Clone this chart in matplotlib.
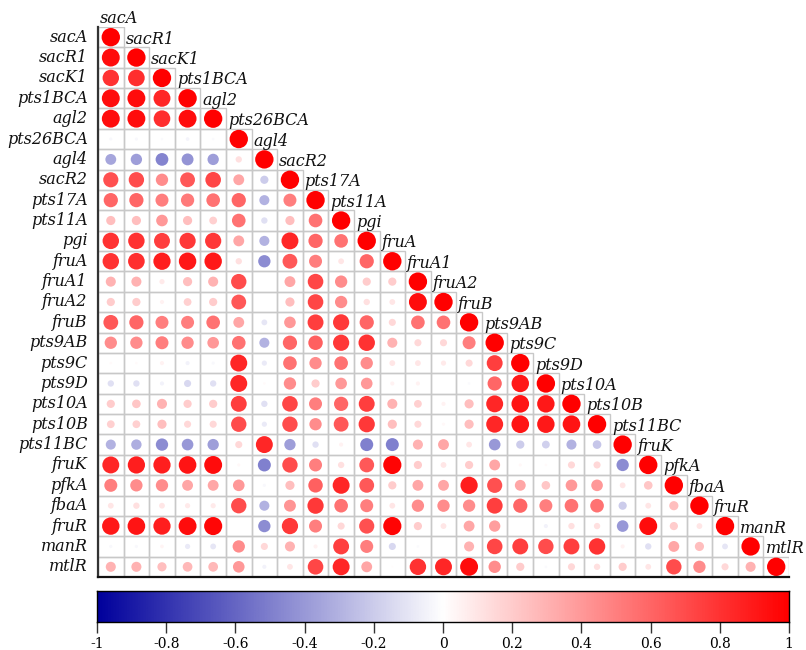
import numpy as np
import matplotlib.pyplot as plt
from matplotlib.colors import LinearSegmentedColormap
from matplotlib.patches import Rectangle

# названия переменных (строки и столбцы)
labels = ['sacA', 'sacR1', 'sacK1', 'pts1BCA', 'agl2', 'pts26BCA', 'agl4', 'sacR2',
          'pts17A', 'pts11A', 'pgi', 'fruA', 'fruA1', 'fruA2', 'fruB', 'pts9AB',
          'pts9C', 'pts9D', 'pts10A', 'pts10B', 'pts11BC', 'fruK', 'pfkA', 'fbaA',
          'fruR', 'manR', 'mtlR']

# нижний треугольник корреляций (без диагонали, она = 1)
corr_rows = [
    [],
    [0.95],
    [0.80, 0.82],
    [0.95, 0.95, 0.85],
    [0.95, 0.95, 0.82, 0.95],
    [-0.03, -0.03, -0.02, -0.04, -0.02],
    [-0.35, -0.38, -0.48, -0.42, -0.38, 0.12],
    [0.68, 0.70, 0.45, 0.65, 0.72, 0.35, -0.20],
    [0.60, 0.60, 0.50, 0.52, 0.55, 0.60, -0.30, 0.50],
    [0.25, 0.25, 0.40, 0.25, 0.18, 0.55, -0.12, 0.25, 0.55],
    [0.80, 0.80, 0.75, 0.78, 0.78, 0.35, -0.30, 0.85, 0.60, 0.55],
    [0.80, 0.82, 0.88, 0.90, 0.90, 0.12, -0.45, 0.65, 0.50, 0.10, 0.60],
    [0.30, 0.30, 0.08, 0.25, 0.30, 0.70, 0.00, 0.35, 0.72, 0.45, 0.20, 0.20],
    [0.20, 0.20, 0.05, 0.18, 0.20, 0.65, 0.00, 0.25, 0.72, 0.45, 0.12, 0.10, 0.95],
    [0.65, 0.60, 0.50, 0.50, 0.55, 0.35, -0.10, 0.40, 0.75, 0.78, 0.60, 0.15, 0.55, 0.55],
    [0.45, 0.45, 0.50, 0.45, 0.40, 0.55, -0.30, 0.60, 0.62, 0.78, 0.80, 0.30, 0.15, 0.15, 0.50],
    [0.02, 0.02, 0.05, -0.05, -0.03, 0.85, -0.08, 0.55, 0.45, 0.55, 0.45, 0.10, 0.10, 0.08,
     0.15, 0.75],
    [-0.12, -0.12, -0.05, -0.15, -0.12, 0.85, 0.02, 0.45, 0.20, 0.40, 0.40, 0.05, 0.05, 0.00,
     -0.02, 0.60, 0.90],
    [0.20, 0.22, 0.30, 0.20, 0.20, 0.75, -0.12, 0.72, 0.50, 0.60, 0.75, 0.30, 0.18, 0.05,
     0.25, 0.85, 0.92, 0.90],
    [0.18, 0.18, 0.25, 0.15, 0.15, 0.70, -0.08, 0.70, 0.45, 0.65, 0.78, 0.25, 0.15, 0.03,
     0.25, 0.85, 0.92, 0.90, 0.92],
    [-0.30, -0.32, -0.45, -0.40, -0.38, 0.15, 0.85, -0.38, -0.12, 0.05, -0.50, -0.50, 0.30,
     0.35, 0.10, -0.40, -0.20, -0.18, -0.30, -0.22],
    [0.85, 0.88, 0.88, 0.92, 0.95, 0.03, -0.50, 0.70, 0.50, 0.12, 0.65, 0.98, 0.20, 0.10,
     0.20, 0.35, 0.03, 0.02, 0.15, 0.15, -0.45],
    [0.50, 0.45, 0.45, 0.35, 0.35, 0.40, -0.03, 0.25, 0.62, 0.85, 0.65, 0.20, 0.35, 0.35,
     0.88, 0.68, 0.35, 0.22, 0.40, 0.40, 0.10, 0.22],
    [0.10, 0.12, 0.10, 0.08, 0.08, 0.70, -0.30, 0.42, 0.78, 0.55, 0.50, 0.10, 0.45, 0.45,
     0.45, 0.75, 0.60, 0.50, 0.55, 0.55, -0.20, 0.10, 0.25],
    [0.90, 0.92, 0.88, 0.95, 0.97, 0.00, -0.45, 0.78, 0.50, 0.15, 0.68, 0.98, 0.20, 0.10,
     0.35, 0.38, 0.00, -0.05, 0.12, 0.12, -0.40, 0.95, 0.20, 0.10],
    [-0.03, -0.03, 0.04, -0.08, -0.10, 0.45, 0.15, 0.30, 0.05, 0.75, 0.50, -0.15, -0.02, 0.00,
     0.30, 0.72, 0.75, 0.70, 0.75, 0.80, 0.05, -0.12, 0.35, 0.25, -0.10],
    [0.30, 0.30, 0.25, 0.28, 0.28, 0.40, -0.05, 0.10, 0.72, 0.85, 0.35, 0.01, 0.80, 0.85,
     0.95, 0.45, 0.20, -0.02, 0.15, 0.12, 0.20, 0.10, 0.70, 0.45, 0.15, 0.30],
]

cbar_ticks = [-1, -0.8, -0.6, -0.4, -0.2, 0, 0.2, 0.4, 0.6, 0.8, 1]

n = len(labels)
cmap = LinearSegmentedColormap.from_list('corr', ['#00009c', '#ffffff', '#ff0000'])
font = dict(family='DejaVu Serif', style='italic', fontsize=11.5, color='#111111')

fig = plt.figure(figsize=(8.06, 6.5), dpi=100)
ax = fig.add_axes([98 / 806, 1 - 577 / 650, 691 / 806, 550 / 650])
ax.set_xlim(0, n)
ax.set_ylim(n, 0)
ax.axis('off')

xs, ys, vals = [], [], []
for i in range(n):
    row = list(corr_rows[i]) + [1.0]
    for j, v in enumerate(row):
        ax.add_patch(Rectangle((j, i), 1, 1, fill=False, ec='#c8c8c8', lw=1))
        xs.append(j + 0.5)
        ys.append(i + 0.5)
        vals.append(v)
vals = np.array(vals)
ax.scatter(xs, ys, s=175 * np.abs(vals), c=vals, cmap=cmap, vmin=-1, vmax=1,
           linewidths=0, zorder=3)

# оси слева и снизу
ax.plot([0, 0], [0, n], color='#333333', lw=1.6, clip_on=False, zorder=4)
ax.plot([0, n], [n, n], color='#111111', lw=1.6, clip_on=False, zorder=4)

# подписи
for i, lab in enumerate(labels):
    ax.text(-0.4, i + 0.5, lab, ha='right', va='center', **font)
    ax.text(i + 0.08, i - 0.18, lab, ha='left', va='baseline', **font)

# цветовая шкала
cax = fig.add_axes([97 / 806, 1 - 622 / 650, 692 / 806, 31 / 650])
cax.imshow(np.linspace(-1, 1, 512)[None, :], aspect='auto', cmap=cmap,
           extent=[-1, 1, 0, 1])
cax.set_yticks([])
cax.set_xticks(cbar_ticks)
cax.set_xticklabels([f'{t:g}' for t in cbar_ticks], family='DejaVu Serif', fontsize=10)
cax.tick_params(axis='x', direction='out', length=8, width=1, color='#333333', pad=3)
for s in cax.spines.values():
    s.set_linewidth(1)
    s.set_color('black')

fig.savefig('out.png', dpi=100)
